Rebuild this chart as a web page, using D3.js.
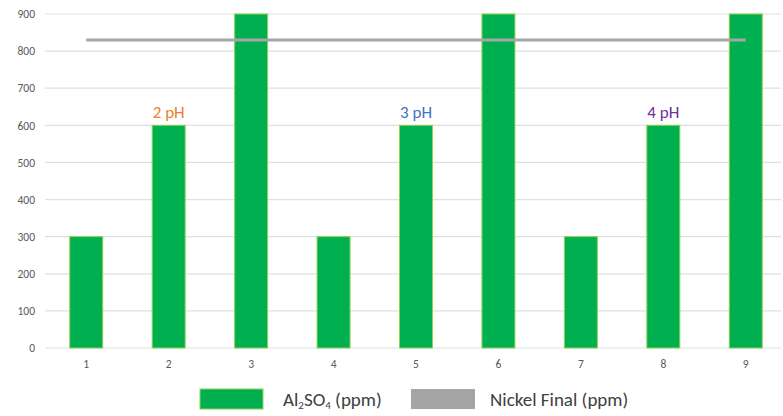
<!DOCTYPE html>
<html>
<head>
<meta charset="utf-8">
<script src="https://cdn.jsdelivr.net/npm/d3@7"></script>
<style>
  html, body { margin: 0; padding: 0; background: #fff; }
  svg { display: block; font-family: Calibri, Carlito, "Open Sans", sans-serif; }
</style>
</head>
<body>
<svg id="chart" width="783" height="416"></svg>
<script>
// Sample numbers along the x axis
const categories = ["1", "2", "3", "4", "5", "6", "7", "8", "9"];
// Al2SO4 dose (ppm) for each sample
const al2so4 = [300, 600, 900, 300, 600, 900, 300, 600, 900];
// Final nickel concentration (ppm), flat across samples
const nickelFinal = [830, 830, 830, 830, 830, 830, 830, 830, 830];
// Y axis ticks
const yTicks = [0, 100, 200, 300, 400, 500, 600, 700, 800, 900];
// pH group annotations: text and the sample they sit above
const phLabels = ["2 pH", "3 pH", "4 pH"];
const phAt = ["2", "5", "8"];
const phColors = ["#ed7d31", "#4472c4", "#7030a0"];

const svg = d3.select("#chart");
const plotLeft = 45, plotRight = 787, plotTop = 14, plotBottom = 348;

const x = d3.scaleBand().domain(categories).range([plotLeft, plotRight]).paddingInner(0.6).paddingOuter(0.3);
const y = d3.scaleLinear().domain([0, 900]).range([plotBottom, plotTop]);

// Gridlines
svg.append("g")
  .selectAll("line")
  .data(yTicks)
  .join("line")
  .attr("x1", plotLeft).attr("x2", 781)
  .attr("y1", d => y(d)).attr("y2", d => y(d))
  .attr("stroke", "#e0e0e0").attr("stroke-width", 1.2);

// Y axis labels
const yAxis = d3.axisLeft(y).tickValues(yTicks).tickSize(0).tickPadding(8);
svg.append("g")
  .attr("transform", `translate(${plotLeft - 2},0)`)
  .call(yAxis)
  .call(g => g.select(".domain").remove())
  .call(g => g.selectAll("text")
    .attr("fill", "#595959").attr("font-size", 11.5)
    .style("font-family", "Calibri, Carlito, 'Open Sans', sans-serif"));

// X axis labels
const xAxis = d3.axisBottom(x).tickSize(0).tickPadding(12);
svg.append("g")
  .attr("transform", `translate(0,${plotBottom})`)
  .call(xAxis)
  .call(g => g.select(".domain").remove())
  .call(g => g.selectAll("text")
    .attr("fill", "#595959").attr("font-size", 11.5)
    .style("font-family", "Calibri, Carlito, 'Open Sans', sans-serif"));

// Bars
svg.append("g")
  .selectAll("rect")
  .data(categories.map((c, i) => ({ c, v: al2so4[i] })))
  .join("rect")
  .attr("x", d => x(d.c))
  .attr("width", x.bandwidth())
  .attr("y", d => y(d.v))
  .attr("height", d => y(0) - y(d.v))
  .attr("fill", "#00b050")
  .attr("stroke", "#92d050")
  .attr("stroke-width", 1);

// Nickel line
const line = d3.line()
  .x((d, i) => x(categories[i]) + x.bandwidth() / 2)
  .y(d => y(d));
svg.append("path")
  .datum(nickelFinal)
  .attr("d", line)
  .attr("fill", "none")
  .attr("stroke", "#a5a5a5")
  .attr("stroke-width", 3);

// pH annotations above the middle bar of each group
svg.append("g")
  .selectAll("text")
  .data(phLabels.map((t, i) => ({ t, c: phAt[i], col: phColors[i] })))
  .join("text")
  .attr("x", d => x(d.c) + x.bandwidth() / 2)
  .attr("y", d => y(al2so4[categories.indexOf(d.c)]) - 7)
  .attr("text-anchor", "middle")
  .attr("fill", d => d.col)
  .attr("font-size", 17)
  .text(d => d.t);

// Legend
const legend = svg.append("g").attr("font-size", 19).attr("fill", "#404040");
legend.append("rect").attr("x", 200).attr("y", 389).attr("width", 63).attr("height", 20)
  .attr("fill", "#00b050").attr("stroke", "#92d050");
const t1 = legend.append("text").attr("x", 283).attr("y", 406);
t1.append("tspan").text("Al");
t1.append("tspan").attr("font-size", 11).attr("dy", 3).text("2");
t1.append("tspan").attr("dy", -3).text("SO");
t1.append("tspan").attr("font-size", 11).attr("dy", 3).text("4");
t1.append("tspan").attr("dy", -3).text(" (ppm)");
legend.append("rect").attr("x", 411).attr("y", 389).attr("width", 64).attr("height", 20)
  .attr("fill", "#a5a5a5");
legend.append("text").attr("x", 490).attr("y", 406).text("Nickel Final (ppm)");
</script>
</body>
</html>
